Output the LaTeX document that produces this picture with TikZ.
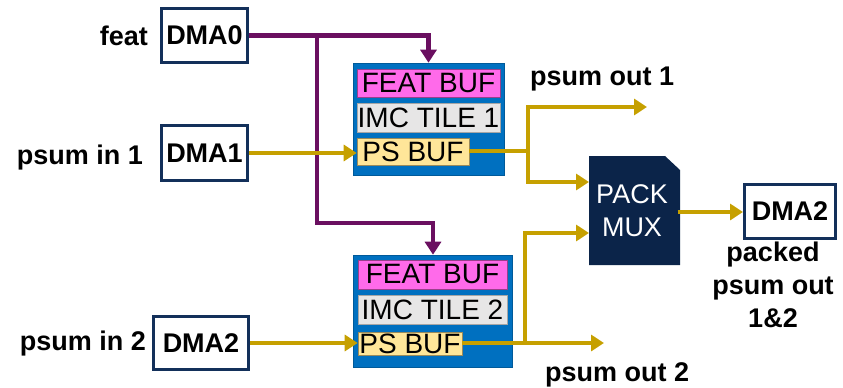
\documentclass[tikz,border=0pt]{standalone}
\usepackage{fontspec}
\setmainfont{Liberation Sans}
\usetikzlibrary{arrows.meta}
\definecolor{navy}{HTML}{13305A}
\definecolor{muxnavy}{HTML}{0B2449}
\definecolor{purp}{HTML}{6A0F60}
\definecolor{gold}{HTML}{C6A000}
\definecolor{tileblue}{HTML}{0070C0}
\definecolor{featpink}{HTML}{FF6AEA}
\definecolor{imcgray}{HTML}{E7E6E6}
\definecolor{psyellow}{HTML}{FFE699}
\tikzset{
  big/.style={font=\fontsize{27}{33}\selectfont},
  tiletext/.style={font=\fontsize{28}{33}\selectfont},
  dmabox/.style={font=\fontsize{27}{33}\selectfont\bfseries, draw=navy, line width=3pt, fill=white, inner sep=0pt},
  lbl/.style={font=\fontsize{27}{33}\selectfont\bfseries, inner sep=0pt},
  tilebox/.style={draw=tileblue!80!black, line width=0.6pt, fill=tileblue, inner sep=0pt},
  featbox/.style={tiletext, draw=featpink!60!black, line width=0.6pt, fill=featpink, inner sep=0pt},
  imcbox/.style={tiletext, draw=gray!70, line width=0.6pt, fill=imcgray, inner sep=0pt},
  psbox/.style={tiletext, draw=psyellow!60!black, line width=0.6pt, fill=psyellow, inner sep=0pt},
  tip/.style={-{Triangle[length=13pt,width=16pt]}},
  pline/.style={draw=purp, line width=4.7pt, tip},
  gline/.style={draw=gold, line width=4.7pt, tip},
  gseg/.style={draw=gold, line width=4.7pt},
}
\begin{document}
\begin{tikzpicture}[x=1pt,y=-1pt]
\useasboundingbox (0,0) rectangle (843,388);

% DMA boxes
\node[dmabox, minimum width=86pt, minimum height=54pt] (dma0) at (204.5,35.5) {DMA0};
\node[dmabox, minimum width=86pt, minimum height=55pt] (dma1) at (204.5,153) {DMA1};
\node[dmabox, minimum width=95pt, minimum height=53pt] (dma2l) at (201,343) {DMA2};
\node[dmabox, minimum width=91pt, minimum height=54pt] (dma2r) at (790,211.5) {DMA2};

% left labels
\node[lbl, anchor=east] (lfeat) at (148,36) {feat};
\node[lbl, anchor=east] (lpin1) at (143,158) {psum in 1};
\node[lbl, anchor=east] (lpin2) at (146,344) {psum in 2};

% tile 1
\node[tilebox, minimum width=151pt, minimum height=112pt] (tile1) at (428.5,119) {};
\node[featbox, minimum width=143pt, minimum height=28pt] (feat1) at (428.5,83) {FEAT BUF};
\node[imcbox, minimum width=143pt, minimum height=29pt] (imc1) at (428.5,117.5) {IMC TILE 1};
\node[psbox, minimum width=112pt, minimum height=27pt] (ps1) at (413,151.5) {PS BUF};

% tile 2
\node[tilebox, minimum width=159pt, minimum height=112pt] (tile2) at (432.5,311) {};
\node[featbox, minimum width=149pt, minimum height=29pt] (feat2) at (432.5,274.5) {FEAT BUF};
\node[imcbox, minimum width=149pt, minimum height=29pt] (imc2) at (432.5,309.5) {IMC TILE 2};
\node[psbox, minimum width=104pt, minimum height=23pt] (ps2) at (410,343.5) {PS BUF};

% PACK MUX
\fill[muxnavy] (589,156) -- (665,156) -- (680,170) -- (680,265) -- (589,265) -- cycle;
\node[big, text=white, align=center, inner sep=0pt, minimum width=91pt, minimum height=109pt] (mux) at (632,210.5) {PACK\\MUX};

% right labels
\node[lbl, anchor=base west] (lpo1) at (530,85) {psum out 1};
\node[lbl, anchor=base west] (lpo2) at (545,381) {psum out 2};
\node[lbl, align=center, anchor=north] (lpk) at (773,242) {packed\\psum out\\1\&2};

% purple connectors
\coordinate (j0) at (317,36);
\coordinate (p2) at (433,223);
\draw[pline] (dma0.east) -| (tile1.north);
\draw[pline] (j0) |- (p2) -- (p2 |- tile2.north);

% gold connectors
\draw[gline] (dma1.east) -- (dma1.east -| ps1.west);
\draw[gline] (dma2l.east) -- (dma2l.east -| ps2.west);

\coordinate (j1) at (528,151);
\coordinate (o1) at (647,107);
\draw[gseg] (ps1.east |- j1) -- (j1);
\draw[gline] (j1) |- (o1);
\draw[gline] (j1) |- (589,182);

\coordinate (j2) at (525,343);
\coordinate (o2) at (604,343);
\draw[gline] (ps2.east |- j2) -- (o2);
\draw[gline] (j2) |- (589,233);

\draw[gline] (mux.east |- 0,212) -- (dma2r.west |- 0,212);
\end{tikzpicture}
\end{document}
